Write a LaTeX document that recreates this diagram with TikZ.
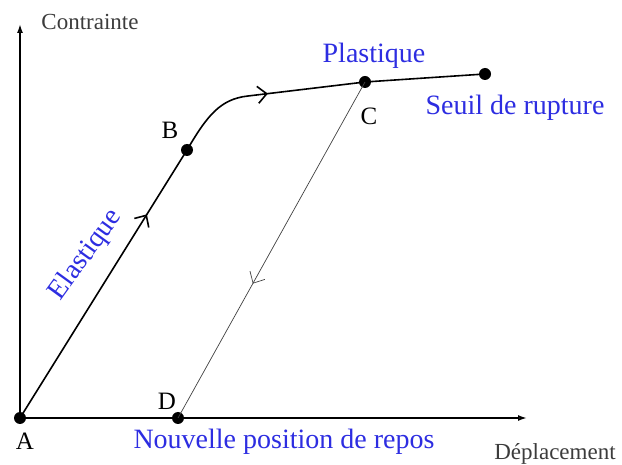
\documentclass[tikz,border=0pt]{standalone}
\usepackage{fontspec}
\setmainfont{Liberation Serif}
\usetikzlibrary{arrows.meta, decorations.markings}
\definecolor{lblue}{RGB}{45,45,225}
\definecolor{axisgray}{RGB}{60,60,60}
\tikzset{
  pt/.style={circle, fill=black, inner sep=0pt, minimum size=12pt},
  axislbl/.style={text=axisgray, font=\fontsize{23}{25}\selectfont},
  ptlbl/.style={font=\fontsize{25}{27}\selectfont},
  phase/.style={text=lblue, font=\fontsize{28}{30}\selectfont},
  midarrow/.style={postaction={decorate}, decoration={markings,
      mark=at position #1 with {\arrow{Straight Barb[length=9pt,width=17pt]}}}}
}
\begin{document}
\begin{tikzpicture}[x=1pt, y=1pt]
  \useasboundingbox (0,0) rectangle (622,464);
  % axes
  \coordinate (O) at (20,46);
  \coordinate (ytop) at (20,440);
  \coordinate (xend) at (527,46);
  \draw[line width=1.6pt, -{Latex[open, length=9pt, width=6pt]}] (O) -- (ytop);
  \draw[line width=1.6pt, -{Latex[open, length=9pt, width=6pt]}] (O) -- (xend);
  \node[axislbl] (ylab) at (90,442) {Contrainte};
  \node[axislbl] (xlab) at (555,10) {Déplacement};
  % points
  \node[pt] (A) at (20,46) {};
  \node[pt] (D) at (178,46) {};
  \node[pt] (B) at (187,314) {};
  \node[pt] (C) at (365,382) {};
  \node[pt] (E) at (485,390) {};
  \coordinate (bend) at (248,368);
  % loading path
  \draw[line width=1.6pt, midarrow=0.76] (A.center) -- (B.center);
  \draw[line width=1.6pt] (B.center) .. controls (207,348) and (220,365) .. (bend);
  \draw[line width=1.6pt, midarrow=0.17] (bend) -- (C.center);
  \draw[line width=1.6pt] (C.center) -- (E.center);
  % unloading
  \draw[line width=0.7pt, black!75, midarrow=0.6] (C.center) -- (D.center);
  % labels
  \node[ptlbl] (Alab) at (25,23) {A};
  \node[ptlbl] (Dlab) at (167,63) {D};
  \node[ptlbl] (Blab) at (170,334) {B};
  \node[ptlbl] (Clab) at (369,348) {C};
  \node[phase] (plas) at (374,408) {Plastique};
  \node[phase] (seuil) at (515,356) {Seuil de rupture};
  \node[phase, rotate=54] (elas) at (86,209) {Elastique};
  \node[phase] (repos) at (284,22) {Nouvelle position de repos};
\end{tikzpicture}
\end{document}
